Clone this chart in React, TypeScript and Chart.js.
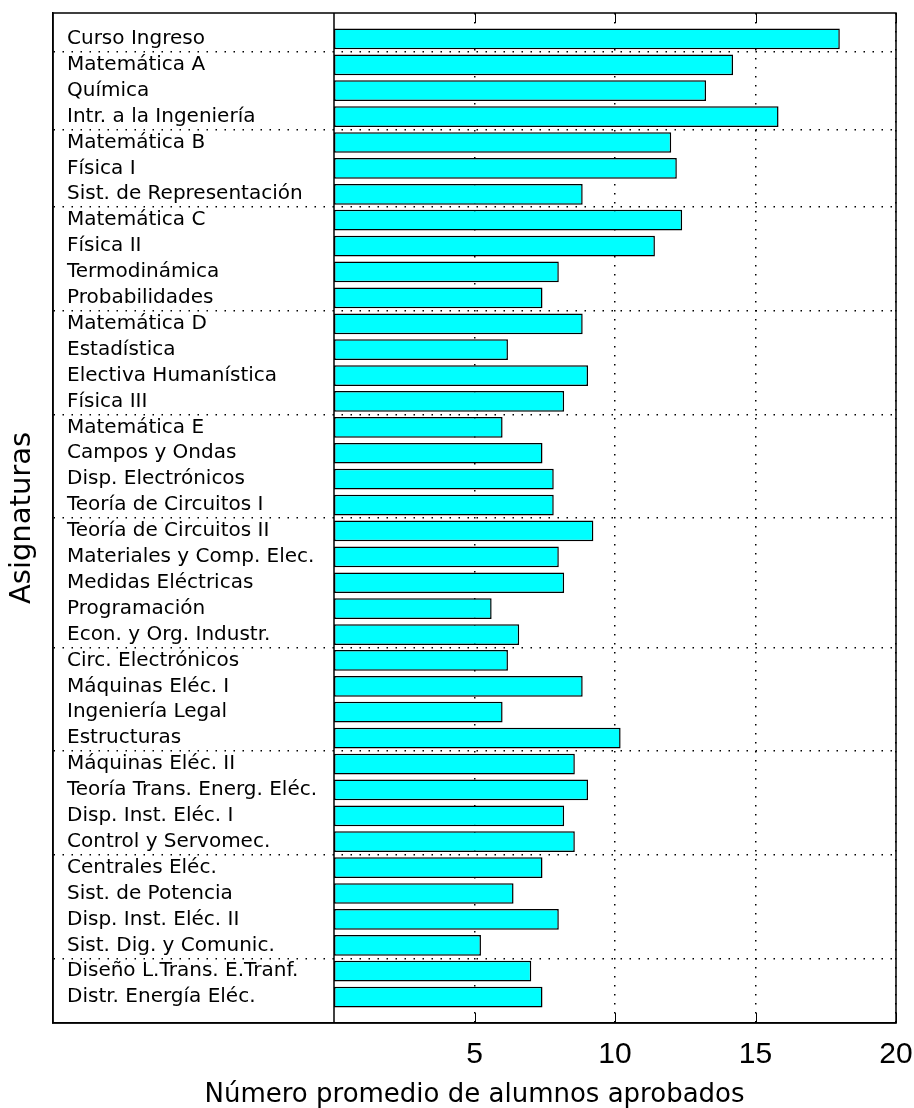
import { useEffect, useRef } from 'react';
import { Chart, registerables } from 'chart.js';

Chart.register(...registerables);

const subjects = [
  'Curso Ingreso',
  'Matemática A',
  'Química',
  'Intr. a la Ingeniería',
  'Matemática B',
  'Física I',
  'Sist. de Representación',
  'Matemática C',
  'Física II',
  'Termodinámica',
  'Probabilidades',
  'Matemática D',
  'Estadística',
  'Electiva Humanística',
  'Física III',
  'Matemática E',
  'Campos y Ondas',
  'Disp. Electrónicos',
  'Teoría de Circuitos I',
  'Teoría de Circuitos II',
  'Materiales y Comp. Elec.',
  'Medidas Eléctricas',
  'Programación',
  'Econ. y Org. Industr.',
  'Circ. Electrónicos',
  'Máquinas Eléc. I',
  'Ingeniería Legal',
  'Estructuras',
  'Máquinas Eléc. II',
  'Teoría Trans. Energ. Eléc.',
  'Disp. Inst. Eléc. I',
  'Control y Servomec.',
  'Centrales Eléc.',
  'Sist. de Potencia',
  'Disp. Inst. Eléc. II',
  'Sist. Dig. y Comunic.',
  'Diseño L.Trans. E.Tranf.',
  'Distr. Energía Eléc.',
];

const avgPassed = [
  18.0, 14.2, 13.24, 15.82, 12.0, 12.2, 8.85, 12.39, 11.42, 8.0, 7.42,
  8.85, 6.19, 9.04, 8.19, 6.0, 7.42, 7.82, 7.82, 9.23, 8.0, 8.19, 5.61,
  6.59, 6.19, 8.85, 6.0, 10.2, 8.57, 9.04, 8.19, 8.57, 7.42, 6.39, 8.0,
  5.23, 7.02, 7.42,
];

// index of the last subject in each semester group (separator drawn below it)
const groupEnds = [1, 4, 7, 11, 15, 19, 24, 28, 32, 36];
const xTickValues = [5, 10, 15, 20];
const xTitle = 'Número promedio de alumnos aprobados';
const yTitle = 'Asignaturas';

const framePlugin = {
  id: 'matlabFrame',
  afterDatasetsDraw(chart: any) {
    const { ctx, chartArea: a, scales } = chart;
    const xs = scales.x;
    ctx.save();
    ctx.setLineDash([]);
    ctx.strokeStyle = '#000';
    ctx.lineWidth = 1.5;
    ctx.strokeRect(a.left, a.top, a.right - a.left, a.bottom - a.top);
    const x0 = xs.getPixelForValue(0);
    ctx.beginPath();
    ctx.moveTo(x0, a.top);
    ctx.lineTo(x0, a.bottom);
    ctx.stroke();
    ctx.lineWidth = 1;
    ctx.beginPath();
    for (const v of xTickValues) {
      const px = Math.round(xs.getPixelForValue(v)) + 0.5;
      ctx.moveTo(px, a.top);
      ctx.lineTo(px, a.top + 10);
      ctx.moveTo(px, a.bottom);
      ctx.lineTo(px, a.bottom - 10);
    }
    ctx.stroke();
    ctx.restore();
  },
};

export default function App() {
  const canvasRef = useRef<HTMLCanvasElement | null>(null);

  useEffect(() => {
    document.body.style.margin = '0';
    const canvas = canvasRef.current;
    if (!canvas) return;
    const chart = new Chart(canvas, {
      type: 'bar',
      data: {
        datasets: [
          {
            data: avgPassed.map((v, i) => ({ x: v, y: i + 1 })),
            backgroundColor: '#00ffff',
            borderColor: '#000000',
            borderWidth: 1.5,
            borderSkipped: false,
            categoryPercentage: 0.8,
            barPercentage: 1,
          } as any,
        ],
      },
      options: {
        indexAxis: 'y',
        responsive: false,
        animation: false,
        layout: { padding: { left: 0, right: 18, top: 13, bottom: 0 } },
        plugins: {
          legend: { display: false },
          tooltip: { enabled: false },
        },
        scales: {
          x: {
            type: 'linear',
            min: -10,
            max: 20,
            afterBuildTicks: (s: any) => {
              s.ticks = xTickValues.map((v) => ({ value: v }));
            },
            afterFit: (s: any) => {
              s.height = 85;
              s.paddingLeft = 0;
              s.paddingRight = 0;
            },
            grid: { color: '#000', lineWidth: 1.5, drawTicks: false },
            border: { display: true, color: '#000', width: 1.5, dash: [1.5, 7.5] },
            ticks: {
              padding: 14,
              color: '#000',
              autoSkip: false,
              maxRotation: 0,
              font: { family: "'Liberation Sans', Arial, sans-serif", size: 30 },
            },
            title: {
              display: true,
              text: xTitle,
              color: '#000',
              padding: 0,
              font: { family: "'DejaVu Sans', sans-serif", size: 26, lineHeight: 1 },
            },
          },
          y: {
            type: 'linear',
            min: 0,
            max: 39,
            reverse: true,
            offset: false,
            afterBuildTicks: (s: any) => {
              s.ticks = subjects.map((_, i) => ({ value: i + 1 }));
            },
            afterFit: (s: any) => {
              s.width = 53;
              s.paddingTop = 0;
              s.paddingBottom = 0;
            },
            grid: {
              offset: true,
              drawTicks: false,
              lineWidth: 1.5,
              color: (c: any) =>
                groupEnds.includes(c.index) ? '#000' : 'rgba(0,0,0,0)',
            },
            border: { display: true, color: '#000', width: 1.5, dash: [1.5, 7.5] },
            ticks: {
              mirror: true,
              padding: 14,
              autoSkip: false,
              color: '#000',
              font: { family: "'DejaVu Sans', sans-serif", size: 20 },
              callback: (v: any) => subjects[Math.round(Number(v)) - 1] ?? '',
            },
            title: {
              display: true,
              text: yTitle,
              color: '#000',
              padding: { top: 8, bottom: 0 },
              font: { family: "'DejaVu Sans', sans-serif", size: 29, lineHeight: 1 },
            },
          },
        },
      } as any,
      plugins: [framePlugin],
    });
    return () => chart.destroy();
  }, []);

  return (
    <div style={{ width: 914, height: 1108 }}>
      <canvas ref={canvasRef} width={914} height={1108} style={{ display: 'block' }} />
    </div>
  );
}
